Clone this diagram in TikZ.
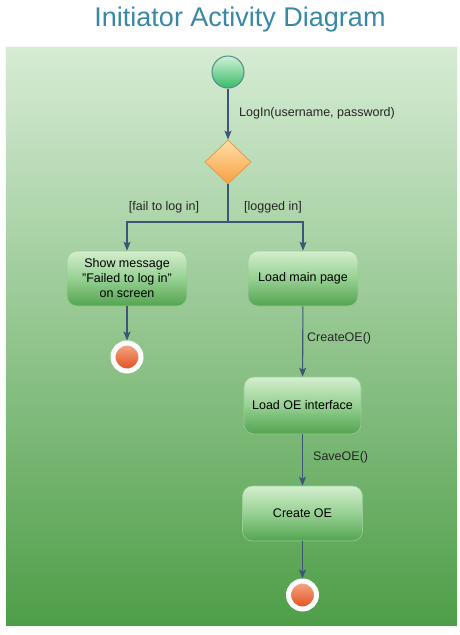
\documentclass[tikz,border=0pt]{standalone}
\usepackage{fontspec}
\setmainfont{Liberation Sans}
\usetikzlibrary{shapes.geometric,arrows.meta}

\definecolor{titleblue}{RGB}{56,136,166}
\definecolor{flowline}{RGB}{62,86,118}
\definecolor{panelTop}{RGB}{214,236,212}
\definecolor{panelBot}{RGB}{78,158,72}
\definecolor{boxTop}{RGB}{212,238,206}
\definecolor{boxMid}{RGB}{150,208,146}
\definecolor{boxBot}{RGB}{82,164,80}
\definecolor{boxEdge}{RGB}{150,205,148}

\tikzset{
  flow/.style={draw=flowline, line width=1.1pt, -{Stealth[length=9pt,width=7pt,inset=2pt]}},
  plainflow/.style={draw=flowline, line width=1.1pt},
  action/.style={rectangle, rounded corners=10pt, draw=boxEdge, line width=0.6pt,
    top color=boxTop, bottom color=boxBot, middle color=boxMid,
    inner sep=2pt, align=center, font=\fontsize{12.5}{15}\selectfont},
  initial/.style={circle, minimum size=32pt, inner sep=0pt, draw={rgb,255:red,78;green,140;blue,138}, line width=1pt,
    top color={rgb,255:red,206;green,242;blue,214}, bottom color={rgb,255:red,58;green,186;blue,106}},
  final/.style={circle, minimum size=28pt, inner sep=0pt, draw=white, line width=5pt,
    top color={rgb,255:red,246;green,172;blue,140}, bottom color={rgb,255:red,226;green,74;blue,24}},
  decision/.style={diamond, minimum width=46pt, minimum height=44pt, inner sep=0pt,
    draw={rgb,255:red,226;green,150;blue,70}, line width=0.7pt,
    top color={rgb,255:red,255;green,222;blue,170}, bottom color={rgb,255:red,248;green,160;blue,64}},
  guard/.style={font=\fontsize{12.5}{15}\selectfont, inner sep=1pt, text=black!85}
}

\begin{document}
\begin{tikzpicture}[x=1pt,y=-1pt]
  \useasboundingbox (0,0) rectangle (460,635);

  % title
  \node[text=titleblue, font=\fontsize{27}{31}\selectfont] (title) at (240,20) {Initiator Activity Diagram};

  % swimlane background
  \shade[top color=panelTop, bottom color=panelBot] (5,46) rectangle (457,626);
  \draw[white!80!panelTop, line width=0.8pt] (5,46) rectangle (457,626);

  % nodes
  \node[initial] (start) at (228,72) {};
  \node[decision] (dec) at (228,162) {};
  \coordinate (split) at (228,222);

  \node[action, minimum width=120pt, minimum height=55pt] (fail) at (127,278.5)
    {Show message\\"Failed to log in"\\on screen};
  \node[action, minimum width=110pt, minimum height=55pt] (main) at (303,278.5) {Load main page};
  \node[action, minimum width=117pt, minimum height=57pt] (oe) at (302.5,405.5) {Load OE interface};
  \node[action, minimum width=120pt, minimum height=55pt] (create) at (302.5,513.5) {Create OE};

  \node[final] (endfail) at (127,357) {};
  \node[final] (endok) at (302.5,595) {};

  % connectors
  \draw[flow] (start) -- (dec);
  \draw[plainflow] (dec.south) -- (split);
  \draw[flow] (split) -| (fail.north);
  \draw[flow] (split) -| (main.north);
  \draw[flow] (fail) -- (endfail);
  \draw[flow] (main) -- (oe);
  \draw[flow] (oe) -- (create);
  \draw[flow] (create) -- (endok);

  % guards and transition labels
  \node[guard, anchor=west] (lLogin) at (238,113) {LogIn(username, password)};
  \node[guard] (lFail) at (164,207) {[fail to log in]};
  \node[guard] (lOk) at (273,207) {[logged in]};
  \node[guard, anchor=west] (lCreate) at (306,338) {CreateOE()};
  \node[guard, anchor=west] (lSave) at (312,457) {SaveOE()};
\end{tikzpicture}
\end{document}
